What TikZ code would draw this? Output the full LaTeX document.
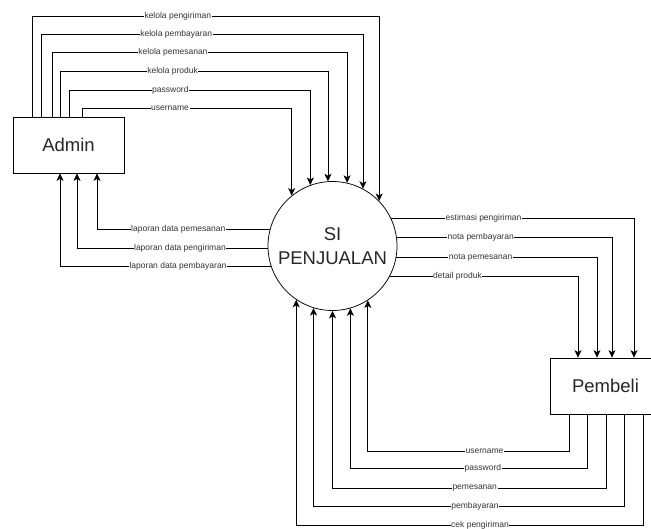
\documentclass[tikz,border=0pt]{standalone}
\usepackage{fontspec}
\setmainfont{Liberation Sans}
\usetikzlibrary{arrows.meta}

\begin{document}
\begin{tikzpicture}[x=1pt,y=-1pt,
    >={Stealth[length=7.5pt,width=7pt,inset=2pt]},
    flow/.style={->,line width=0.75pt},
    lbl/.style={fill=white,inner sep=0.6pt,text=black!80,font=\fontsize{8.5}{10}\selectfont},
    entity/.style={draw,line width=0.75pt,minimum width=111pt,minimum height=56pt,text=black!85,font=\fontsize{18.5}{22}\selectfont},
    proc/.style={circle,draw,line width=0.75pt,inner sep=0pt,minimum size=129pt,align=center,text=black!85,font=\fontsize{18.5}{24}\selectfont}]
        \useasboundingbox (0,0) rectangle (651,528);
        \node[entity] (admin) at (68.5,145) {Admin};
        \node[entity] (pembeli) at (605.5,386) {Pembeli};
        \node[proc] (si) at (332.5,246) {SI\\PENJUALAN};

        \draw[flow] (admin.north -| 32,0) |- node[lbl,pos=.71] {kelola pengiriman} (si.44 |- 0,16) -- (si.44);
        \draw[flow] (admin.north -| 41,0) |- node[lbl,pos=.71] {kelola pembayaran} (si.62 |- 0,34) -- (si.62);
        \draw[flow] (admin.north -| 52,0) |- node[lbl,pos=.705] {kelola pemesanan} (si.77 |- 0,52) -- (si.77);
        \draw[flow] (admin.north -| 60,0) |- node[lbl,pos=.71] {kelola produk} (si.94 |- 0,71) -- (si.94);
        \draw[flow] (admin.north -| 69,0) |- node[lbl,pos=.71] {password} (si.110 |- 0,90) -- (si.110);
        \draw[flow] (admin.north -| 82,0) |- node[lbl,pos=.71] {username} (si.129 |- 0,108) -- (si.129);

        \draw[flow] (si.165) -| node[lbl,pos=.265] {laporan data pemesanan} (admin.south -| 97,0);
        \draw[flow] (si.182) -| node[lbl,pos=.23] {laporan data pengiriman} (admin.south -| 77,0);
        \draw[flow] (si.198) -| node[lbl,pos=.22] {laporan data pembayaran} (admin.south -| 60,0);

        \draw[flow] (si.25) -| node[lbl,pos=.19] {estimasi pengiriman} (pembeli.north -| 634,0);
        \draw[flow] (si.8) -| node[lbl,pos=.195] {nota pembayaran} (pembeli.north -| 612,0);
        \draw[flow] (si.350) -| node[lbl,pos=.21] {nota pemesanan} (pembeli.north -| 597,0);
        \draw[flow] (si.332) -| node[lbl,pos=.18] {detail produk} (pembeli.north -| 578,0);

        \draw[flow] (pembeli.south -| 569,0) |- node[lbl,pos=.71] {username} (si.303 |- 0,451) -- (si.303);
        \draw[flow] (pembeli.south -| 587,0) |- node[lbl,pos=.72] {password} (si.286 |- 0,468) -- (si.286);
        \draw[flow] (pembeli.south -| 606,0) |- node[lbl,pos=.74] {pemesanan} (si.270 |- 0,488) -- (si.270);
        \draw[flow] (pembeli.south -| 624,0) |- node[lbl,pos=.74] {pembayaran} (si.253 |- 0,506) -- (si.253);
        \draw[flow] (pembeli.south -| 643,0) |- node[lbl,pos=.735] {cek pengiriman} (si.236 |- 0,525) -- (si.236);
      \end{tikzpicture}
\end{document}
